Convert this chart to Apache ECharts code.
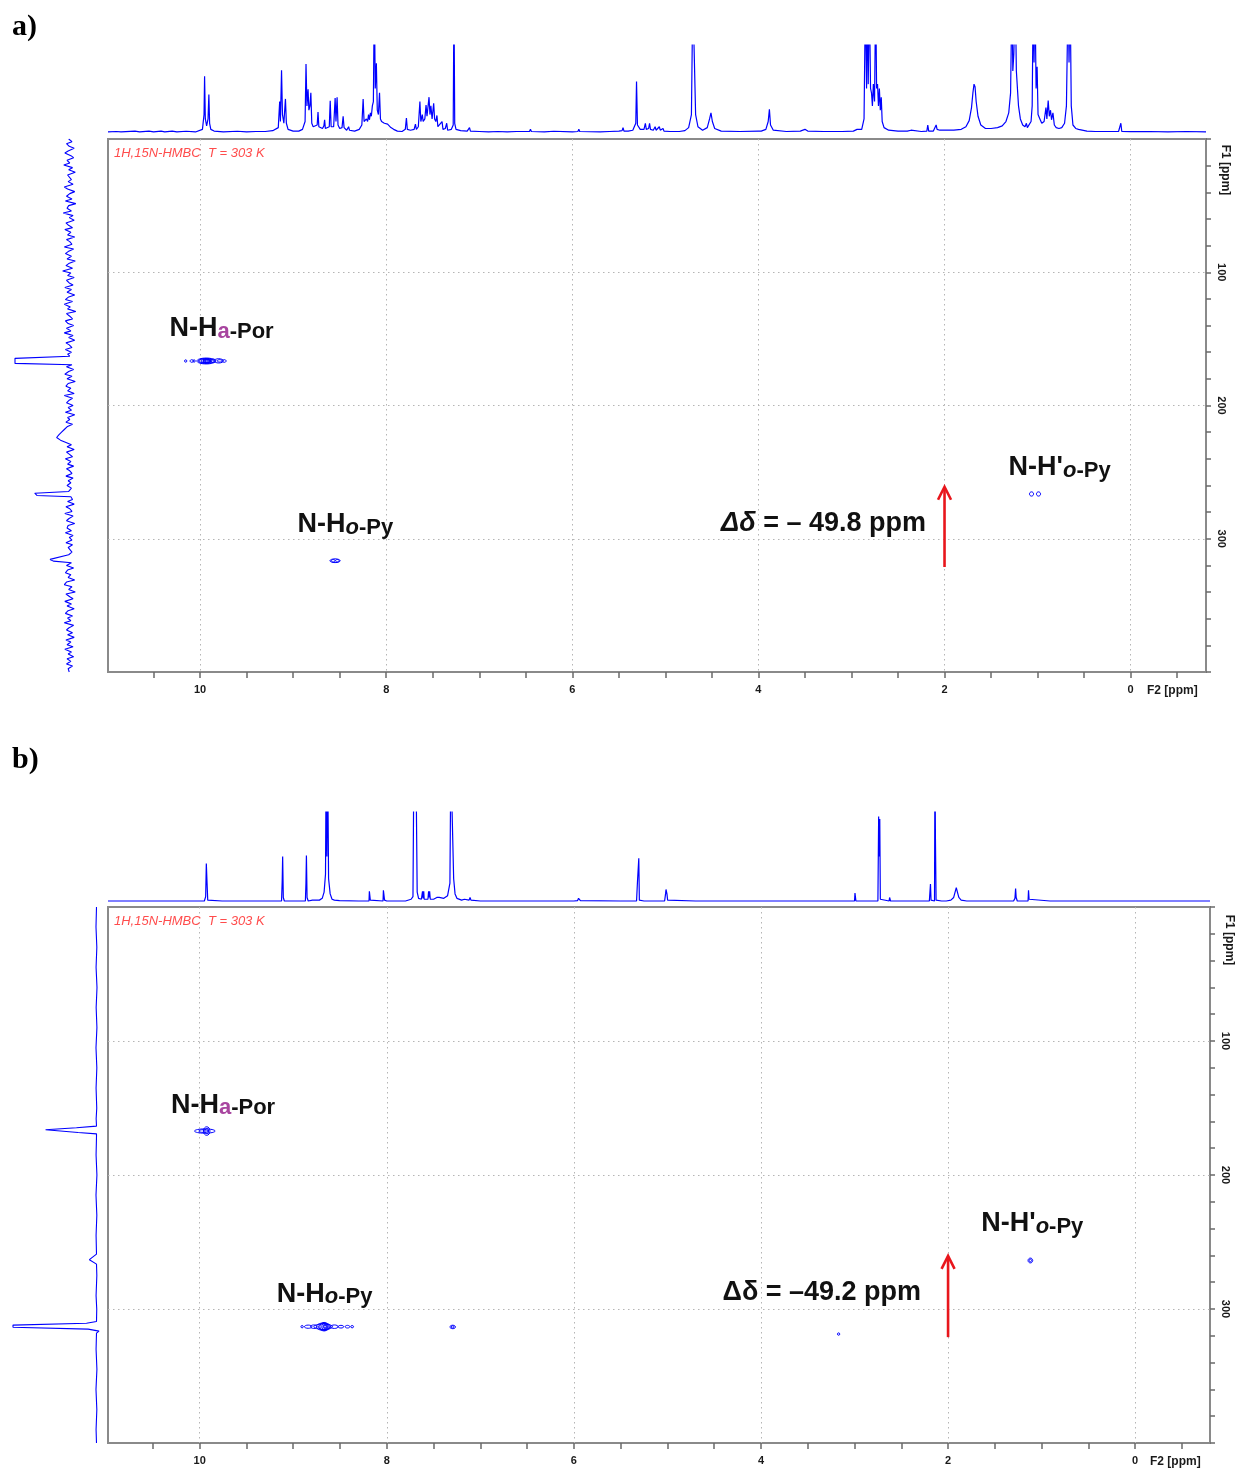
<!DOCTYPE html>
<html><head><meta charset="utf-8">
<script src="https://cdn.jsdelivr.net/npm/echarts@6/dist/echarts.min.js"></script>
<style>html,body{margin:0;padding:0;background:#fff}#c{width:1238px;height:1472px}</style>
</head><body><div id="c"></div><script>
// ---------------- DATA ----------------
const f2Ticks = [-0.5,0,0.5,1,1.5,2,2.5,3,3.5,4,4.5,5,5.5,6,6.5,7,7.5,8,8.5,9,9.5,10,10.5];
const f2Labels = [0,2,4,6,8,10];
const f1Labels = [100,200,300];

// panel a: 1H projection [ppm, intensity]
const topA = [
[10.99,0],[10.9,0.005],[10.85,0],[10.7,0.01],[10.65,0],[10.55,0.01],[10.5,0],[10.42,0.01],[10.38,0],[10.3,0.01],[10.25,0],[10.15,0.008],[10.05,0],[9.975,0.03],[9.958,0.2],[9.952,0.64],[9.944,0.15],[9.93,0.07],[9.915,0.15],[9.906,0.43],[9.898,0.1],[9.885,0.03],[9.85,0.01],[9.75,0],[9.6,0.008],[9.5,0],[9.4,0.005],[9.3,0.005],[9.22,0.015],
[9.16,0.05],[9.145,0.35],[9.137,0.12],[9.125,0.71],[9.115,0.2],[9.1,0.1],[9.083,0.38],[9.073,0.1],[9.055,0.03],[9.0,0.01],[8.94,0.01],[8.9,0.03],[8.872,0.12],[8.862,0.78],[8.852,0.3],[8.84,0.49],[8.831,0.25],[8.82,0.3],[8.81,0.45],[8.8,0.1],[8.785,0.06],[8.765,0.05],[8.742,0.08],[8.733,0.23],[8.724,0.06],[8.705,0.04],[8.685,0.04],[8.67,0.07],[8.662,0.14],[8.654,0.04],[8.635,0.03],[8.612,0.06],[8.602,0.36],[8.592,0.06],[8.565,0.06],[8.549,0.39],[8.54,0.12],[8.528,0.4],[8.518,0.08],[8.5,0.04],[8.475,0.05],[8.463,0.18],[8.453,0.05],[8.425,0.02],[8.404,0.06],[8.395,0.02],[8.34,0.01],[8.29,0.03],
[8.262,0.08],[8.248,0.38],[8.238,0.12],[8.222,0.1],[8.213,0.15],[8.2,0.12],[8.19,0.2],[8.18,0.14],[8.17,0.22],[8.16,0.18],[8.149,0.3],[8.138,0.35],[8.128,1.6],[8.118,0.5],[8.106,0.79],[8.096,0.25],[8.084,0.2],[8.072,0.45],[8.062,0.15],[8.05,0.12],[8.035,0.14],[8.02,0.1],[8.0,0.12],[7.985,0.09],[7.965,0.1],[7.95,0.05],[7.92,0.03],[7.88,0.01],[7.83,0.005],
[7.795,0.03],[7.783,0.16],[7.773,0.03],[7.74,0.02],[7.7,0.03],[7.686,0.09],[7.676,0.03],[7.655,0.06],[7.638,0.35],[7.628,0.12],[7.612,0.2],[7.603,0.12],[7.585,0.15],[7.572,0.31],[7.562,0.18],[7.548,0.2],[7.54,0.4],[7.53,0.2],[7.52,0.3],[7.507,0.15],[7.49,0.33],[7.48,0.15],[7.467,0.12],[7.455,0.19],[7.445,0.06],[7.425,0.05],[7.4,0.12],[7.39,0.03],[7.365,0.04],[7.35,0.1],[7.34,0.02],[7.3,0.03],[7.28,0.08],[7.272,1.6],[7.264,0.1],[7.25,0.03],[7.2,0.015],[7.13,0.01],[7.105,0.05],[7.095,0.01],[7.0,0.005],[6.9,0],[6.8,0.005],[6.7,0],[6.6,0.005],[6.46,0.005],[6.45,0.03],[6.44,0.005],[6.3,0],[6.2,0.008],[6.0,0],[5.94,0.005],[5.93,0.03],[5.92,0.005],[5.7,0],[5.6,0.005],[5.5,0.01],
[5.465,0.015],[5.455,0.05],[5.445,0.01],[5.4,0.01],[5.35,0.02],[5.318,0.1],[5.31,0.58],[5.3,0.08],[5.27,0.03],[5.23,0.03],[5.215,0.1],[5.205,0.03],[5.18,0.04],[5.17,0.1],[5.16,0.03],[5.13,0.02],[5.11,0.06],[5.1,0.02],[5.065,0.06],[5.055,0.02],[5.025,0.04],[5.015,0.01],[4.95,0.005],[4.85,0.005],[4.79,0.015],[4.75,0.05],[4.72,0.2],[4.705,1.6],[4.69,1.6],[4.675,0.2],[4.65,0.06],[4.6,0.02],[4.55,0.05],[4.525,0.15],[4.51,0.22],[4.495,0.12],[4.47,0.04],[4.4,0.01],[4.2,0.005],[4.0,0.01],[3.985,0.03],[3.97,0.01],[3.92,0.03],[3.895,0.12],[3.882,0.26],[3.87,0.08],[3.84,0.02],[3.7,0.005],[3.55,0.01],[3.5,0.03],[3.47,0.01],[3.3,0.005],[3.1,0.005],[2.98,0.01],[2.94,0.03],[2.92,0.01],[2.89,0.03],[2.865,0.15],[2.85,1.6],[2.838,0.5],[2.83,1.6],[2.82,0.55],[2.808,1.6],[2.795,0.5],[2.785,0.45],[2.775,0.3],[2.765,0.55],[2.752,0.35],[2.74,1.6],[2.73,0.5],[2.72,0.55],[2.71,0.3],[2.7,0.5],[2.69,0.25],[2.68,0.4],[2.67,0.12],[2.65,0.05],[2.6,0.02],[2.5,0.01],[2.4,0.01],[2.36,0.02],[2.34,0.01],[2.25,0.005],[2.19,0.01],[2.18,0.08],[2.17,0.01],[2.12,0.01],[2.09,0.08],[2.08,0.03],[2.065,0.05],[2.05,0.02],[2.0,0.02],[1.9,0.02],[1.82,0.03],[1.77,0.06],[1.735,0.13],[1.71,0.28],[1.695,0.45],[1.683,0.55],[1.672,0.52],[1.66,0.35],[1.64,0.18],[1.61,0.08],[1.56,0.04],[1.5,0.04],[1.43,0.05],[1.38,0.07],[1.34,0.12],[1.31,0.22],[1.29,0.45],[1.276,1.6],[1.266,0.7],[1.255,0.9],[1.24,1.6],[1.228,0.7],[1.216,0.7],[1.205,0.3],[1.185,0.15],[1.16,0.08],[1.135,0.06],[1.12,0.1],[1.11,0.05],[1.09,0.06],[1.07,0.12],[1.058,0.3],[1.047,1.6],[1.038,0.8],[1.028,1.6],[1.016,0.5],[1.005,0.75],[0.995,0.2],[0.975,0.15],[0.955,0.1],[0.93,0.12],[0.91,0.28],[0.9,0.15],[0.886,0.36],[0.874,0.18],[0.861,0.25],[0.85,0.14],[0.835,0.22],[0.82,0.08],[0.8,0.05],[0.77,0.04],[0.74,0.05],[0.71,0.1],[0.69,0.3],[0.672,1.6],[0.662,0.8],[0.65,1.6],[0.638,0.3],[0.62,0.08],[0.59,0.04],[0.56,0.03],[0.55,0.05],[0.54,0.02],[0.47,0.01],[0.38,0.005],[0.25,0.005],[0.13,0.005],[0.105,0.1],[0.095,0.005],[0.0,0.003],[-0.2,0.005],[-0.4,0],[-0.6,0.005],[-0.81,0]
];

// panel b: 1H projection [ppm, intensity]
const topB = [
[10.98,0],[10.8,0],[10.58,0],[10.57,0.012],[10.56,0],[10.2,0],[9.95,0],[9.936,0.05],[9.929,0.42],[9.921,0.2],[9.914,0.01],[9.9,0],[9.76,0],[9.75,0.008],[9.74,0],[9.69,0],[9.68,0.008],[9.67,0],[9.55,0],[9.54,0.008],[9.53,0],[9.4,0],[9.38,-0.008],[9.36,0],[9.3,0],[9.29,0.008],[9.28,0],[9.125,0],[9.118,0.22],[9.113,0.5],[9.106,0.04],[9.095,0],[8.99,0],[8.985,-0.01],[8.98,0],[8.87,0],[8.864,0.2],[8.859,0.51],[8.852,0.04],[8.84,0],[8.795,0.01],[8.79,0.03],[8.785,0],[8.72,0.01],[8.69,0.03],[8.67,0.1],[8.655,0.3],[8.648,1.6],[8.64,0.5],[8.632,1.6],[8.622,0.25],[8.605,0.08],[8.585,0.02],[8.56,0.01],[8.505,0.005],[8.5,0.02],[8.495,0.005],[8.3,0],[8.19,0],[8.186,0.11],[8.18,0.11],[8.176,0.01],[8.17,0],[8.04,0],[8.036,0.12],[8.028,0.12],[8.024,0.01],[8.0,0],[7.83,0],[7.82,0.01],[7.8,0],[7.74,0.02],[7.72,0.05],[7.71,1.6],[7.704,1.6],[7.698,1.6],[7.688,1.6],[7.682,0.88],[7.675,0.1],[7.66,0.03],[7.63,0.02],[7.618,0.11],[7.612,0.03],[7.605,0.11],[7.6,0.02],[7.56,0.02],[7.553,0.11],[7.548,0.04],[7.542,0.11],[7.535,0.02],[7.5,0.02],[7.465,0.04],[7.455,0.03],[7.44,0.04],[7.42,0.02],[7.39,0.03],[7.35,0.06],[7.325,0.2],[7.315,1.6],[7.305,1.6],[7.295,1.6],[7.285,0.25],[7.27,0.08],[7.25,0.03],[7.2,0.01],[7.17,0.02],[7.16,0.01],[7.12,0.01],[7.11,0.04],[7.1,0.01],[7.0,0],[6.8,0],[6.44,0],[6.435,0.01],[6.43,0],[6.0,0],[5.96,0.005],[5.95,0.03],[5.94,0.02],[5.93,0.005],[5.5,0],[5.33,0],[5.32,0.22],[5.306,0.48],[5.3,0.01],[5.25,0],[5.17,0],[5.168,0.01],[5.165,0],[5.03,0],[5.02,0.08],[5.015,0.13],[5.005,0.08],[4.998,0.01],[4.99,0],[4.7,0],[4.698,0.01],[4.695,0],[4.0,0],[3.5,0],[3.49,0.01],[3.48,0],[3.33,0],[3.32,0.01],[3.31,0],[3.0,0],[2.995,0.09],[2.99,0.09],[2.985,0],[2.75,0],[2.742,0.95],[2.737,0.5],[2.73,0.92],[2.724,0.02],[2.715,0.01],[2.63,0],[2.625,0.04],[2.62,0.02],[2.615,0],[2.2,0],[2.188,0.19],[2.182,0.01],[2.175,0],[2.145,0],[2.14,1.6],[2.135,0.7],[2.128,0.01],[2.12,0],[2.07,0],[2.064,0.02],[2.058,0],[2.02,0],[2.013,0.015],[2.005,0],[1.97,0.01],[1.94,0.04],[1.925,0.1],[1.912,0.15],[1.9,0.1],[1.885,0.04],[1.86,0.01],[1.8,0],[1.3,0],[1.285,0.03],[1.278,0.14],[1.272,0.04],[1.26,0],[1.2,0],[1.195,0.01],[1.19,0],[1.145,0],[1.14,0.12],[1.134,0.02],[1.125,0],[0.91,0],[0.905,0.02],[0.9,0.005],[0.893,0.02],[0.885,0],[0.5,0],[0.27,0],[0.266,-0.008],[0.26,0],[0.215,0],[0.21,-0.008],[0.205,0],[-0.1,0],[-0.105,-0.008],[-0.11,0],[-0.8,0]
];

// panel a: 15N projection [intensity, F1 ppm]
const leftA = [
[0.02,0],[-0.04,2],[0.06,3.5],[0.01,5.5],[-0.08,7],[0.03,9],[0.09,10.5],[-0.02,12.5],[-0.07,14],[0.05,16],[0.0,18],[0.11,19.5],[-0.05,21.5],[0.02,23],[-0.1,25],[0.04,27],[0.07,28.5],[-0.03,30.5],[0.03,32],[-0.06,34],[0.1,36],[0.04,37.5],[-0.09,39.5],[0.0,41],[0.06,43],[-0.04,45],[0.08,46.5],[-0.11,48.5],[0.02,50],[0.05,52],[-0.03,54],[0.12,55.5],[-0.06,57.5],[0.01,59],[-0.08,61],[0.07,63],[0.03,64.5],[-0.05,66.5],[0.09,68],[-0.02,70],[0.04,72],[-0.09,73.5],[0.06,75.5],[0.0,77],[-0.04,79],[0.1,81],[-0.07,82.5],[0.03,84.5],[0.08,86],[-0.03,88],[0.05,90],[-0.1,91.5],[0.02,93.5],[0.07,95],[-0.05,97],[0.13,99],[-0.02,100.5],[0.04,102.5],[-0.08,104],[0.06,106],[0.01,108],[-0.06,109.5],[0.09,111.5],[-0.03,113],[0.05,115],[-0.09,117],[0.02,118.5],[0.08,120.5],[-0.05,122],[0.1,124],[-0.01,126],[0.04,127.5],[-0.11,129.5],[0.06,131],[0.0,133],[-0.05,135],[0.08,136.5],[0.03,138.5],[-0.07,140],[0.06,142],[-0.02,144],[0.1,145.5],[-0.06,147.5],[0.02,149],[-0.09,151],[0.07,153],[0.01,154.5],[-0.04,156.5],[0.08,158],[-0.03,160],[0.04,161.5],[0.0,163],
[0.0,163.8],[1.0,164.6],[1.0,168.4],[-0.04,169.4],
[0.06,171],[-0.07,173],[0.02,174.5],[0.09,176.5],[-0.04,178],[0.05,180],[-0.1,182],[0.03,183.5],[0.07,185.5],[-0.02,187],[0.04,189],[-0.08,191],[0.1,192.5],[-0.05,194.5],[0.01,196],[0.06,198],[-0.06,200],[0.03,201.5],[-0.03,203.5],[0.08,205],[-0.09,207],[0.04,209],[0.0,210.5],[0.07,212.5],[-0.05,214],[0.05,216],[0.1,218],[0.15,220],[0.2,222],[0.24,224],[0.17,226],[0.08,227.5],[-0.03,229.5],[0.05,231],[-0.08,233],[0.06,235],[0.01,236.5],[-0.05,238.5],[0.08,240],[-0.02,242],[0.04,244],[-0.07,245.5],[0.06,247.5],[0.0,249],[-0.04,251],[0.07,253],[-0.06,254.5],[0.03,256.5],[-0.02,258],[0.05,260],[-0.03,262],
[0.02,264.5],[0.64,265.8],[0.6,267.5],[-0.02,268.5],
[-0.05,270.5],[0.04,272],[-0.08,274],[0.07,276],[0.0,277.5],[-0.04,279.5],[0.09,281],[-0.06,283],[0.02,285],[0.06,286.5],[-0.09,288.5],[0.03,290],[0.05,292],[-0.03,294],[0.08,295.5],[-0.06,297.5],[0.01,299],[-0.04,301],[0.07,303],[-0.05,304.5],[0.03,306.5],[0.06,308],[-0.04,310],[0.02,312],[0.05,313.5],
[0.36,315.5],[0.3,316.8],[-0.03,318],
[0.06,320],[-0.07,322],[0.04,323.5],[0.08,325.5],[-0.02,327],[0.03,329],[-0.09,331],[0.06,332.5],[0.1,334.5],[-0.04,336],[0.02,338],[-0.1,340],[0.07,341.5],[0.0,343.5],[-0.06,345],[0.09,347],[-0.03,349],[0.05,350.5],[-0.08,352.5],[0.03,354],[0.08,356],[-0.05,358],[0.04,359.5],[-0.02,361.5],[0.1,363],[-0.07,365],[0.02,367],[0.06,368.5],[-0.05,370.5],[0.04,372],[-0.08,374],[0.07,376],[-0.02,377.5],[0.05,379.5],[-0.06,381],[0.09,383],[-0.03,385],[0.03,386.5],[-0.07,388.5],[0.05,390],[-0.02,392],[0.06,394],[-0.05,395.5],[0.03,397.5],[0.01,400]
];

// panel b: 15N projection [intensity, F1 ppm]
const leftB = [
[0,0],[0.006,15],[-0.004,30],[0.005,45],[-0.006,60],[0.004,75],[-0.005,90],[0.006,105],[-0.004,120],[0.005,135],[-0.003,150],[0.004,158],[0,163.5],[0.24,164.7],[0.61,166.2],[0.61,167.4],[0.22,168.3],[0,169.3],[-0.012,170.3],[0,171.5],[0.005,185],[-0.005,200],[0.006,215],[-0.004,230],[0.005,245],[0,259],[0.085,263.2],[0,266.5],[-0.004,275],[0.005,290],[-0.003,300],[0,309.3],[0.12,310.6],[1.0,312],[1.0,313.6],[0.1,315],[-0.03,316.5],[0,318],[0.005,330],[-0.005,345],[0.006,360],[-0.004,375],[0.005,390],[0,400]
];

// cross-peak contours [F2 ppm, F1 ppm, F2 half-width ppm, F1 half-width ppm]
const contoursA = [
[10.155,166.6,0.012,0.8],[10.09,166.6,0.018,1.0],[10.065,166.6,0.01,0.7],
[9.935,166.6,0.1,2.2],[9.935,166.6,0.085,1.9],[9.94,166.5,0.07,1.6],[9.935,166.6,0.055,1.3],[9.93,166.7,0.04,1.1],[9.925,166.6,0.028,0.8],[9.95,166.6,0.015,0.6],[9.9,166.6,0.02,0.7],
[9.86,166.5,0.03,1.3],[9.80,166.5,0.05,1.6],[9.79,166.5,0.025,0.9],[9.74,166.6,0.02,1.0],
[8.55,316.5,0.055,1.4],[8.57,316.5,0.02,0.8],[8.525,316.5,0.02,0.8],
[1.065,266.4,0.022,1.6],[0.99,266.4,0.022,1.6]
];
const contoursB = [
[9.945,167.2,0.11,1.6],[9.925,167.2,0.035,3.2],[9.925,167.2,0.02,2.0],[9.96,167.2,0.05,1.0],
[8.905,313.2,0.012,0.7],[8.84,313.2,0.04,1.2],[8.78,313.2,0.035,1.3],[8.68,313.2,0.1,2.0],[8.675,313.2,0.075,2.8],[8.67,313.2,0.06,2.4],[8.67,313.2,0.045,3.2],[8.665,313.2,0.03,2.4],[8.66,313.2,0.02,1.6],[8.66,313.2,0.01,1.0],[8.56,313.2,0.04,1.3],[8.49,313.2,0.03,1.0],[8.42,313.2,0.025,1.0],[8.37,313.2,0.015,0.8],
[7.295,313.4,0.03,1.3],[7.295,313.4,0.015,0.7],
[3.17,318.7,0.01,0.8],
[1.12,263.8,0.025,1.8],[1.12,263.8,0.012,1.0]
];

// arrows [F2 ppm, F1 start, F1 tip]
const arrowsA = [[2.0,321.2,261.0]];
const arrowsB = [[2.0,321.0,260.3]];

// annotation texts and anchors [F2, F1, text index]
const labelTextsA = ['{b|N-H}{m|a}{s|-Por}','{b|N-H}{i|o}{s|-Py}',"{b|N-H'}{i|o}{s|-Py}",'{di|Δδ}{d| = – 49.8 ppm}'];
const labelTextsB = ['{b|N-H}{m|a}{s|-Por}','{b|N-H}{i|o}{s|-Py}',"{b|N-H'}{i|o}{s|-Py}",'{du|Δδ}{d| = –49.2 ppm}'];
const labelPosA = [[9.77,142.6,0],[8.44,289.7,1],[0.763,246.9,2],[3.30,288.4,3]];
const labelPosB = [[9.75,148.3,0],[8.664,289.0,1],[1.10,236.6,2],[3.35,288.0,3]];

const panelTitle = '1H,15N-HMBC  T = 303 K';
const panelTags = ['a)','b)'];

// ---------------- CHART ----------------
const FF = '"Liberation Sans", Arial, sans-serif';
const BLUE = '#0000ff';
const RICH = {
  b:{fontSize:27,fontWeight:'bold',fontFamily:FF,fill:'#111',lineHeight:27,verticalAlign:'bottom'},
  s:{fontSize:22,fontWeight:'bold',fontFamily:FF,fill:'#111',lineHeight:22,verticalAlign:'bottom'},
  m:{fontSize:22,fontWeight:'bold',fontFamily:FF,fill:'#a8459f',lineHeight:22,verticalAlign:'bottom'},
  i:{fontSize:22,fontWeight:'bold',fontStyle:'italic',fontFamily:FF,fill:'#111',lineHeight:22,verticalAlign:'bottom'},
  di:{fontSize:27,fontWeight:'bold',fontStyle:'italic',fontFamily:FF,fill:'#111',lineHeight:27,verticalAlign:'bottom'},
  du:{fontSize:27,fontWeight:'bold',fontFamily:FF,fill:'#111',lineHeight:27,verticalAlign:'bottom'},
  d:{fontSize:27,fontWeight:'bold',fontFamily:FF,fill:'#111',lineHeight:27,verticalAlign:'bottom'}
};

const rangeA = {min:-0.81, max:10.99};
const rangeB = {min:-0.80, max:10.98};

function hiddenAxis(grid, extra){ return Object.assign({gridIndex:grid,type:'value',show:false,scale:false,axisLine:{onZero:false}}, extra); }
function mainX(grid, r){ return {gridIndex:grid,type:'value',inverse:true,min:r.min,max:r.max,position:'bottom',
  axisLine:{show:false,onZero:false},
  axisTick:{show:true,inside:false,length:6,customValues:f2Ticks,lineStyle:{color:'#6a6a6a',width:1.5}},
  axisLabel:{show:true,customValues:f2Labels,margin:12,color:'#1a1a1a',fontFamily:FF,fontWeight:'bold',fontSize:11},
  splitLine:{show:false}}; }
function splitX(grid, r){ return {gridIndex:grid,type:'value',inverse:true,min:r.min,max:r.max,position:'top',
  axisLine:{show:false,onZero:false},axisTick:{show:false,customValues:f2Labels},axisLabel:{show:false},
  splitLine:{show:true,lineStyle:{color:'#b5b5b5',width:1,type:[1.5,3.5]}}}; }
function mainY(grid){ return {gridIndex:grid,type:'value',inverse:true,min:0,max:400,interval:20,position:'right',
  axisLine:{show:false,onZero:false},
  axisTick:{show:true,inside:false,length:5,lineStyle:{color:'#6a6a6a',width:1.5}},
  axisLabel:{show:true,customValues:f1Labels,rotate:-90,margin:10,color:'#1a1a1a',fontFamily:FF,fontWeight:'bold',fontSize:11},
  splitLine:{show:false}}; }
function splitY(grid){ return {gridIndex:grid,type:'value',inverse:true,min:0,max:400,position:'left',
  axisLine:{show:false,onZero:false},axisTick:{show:false,customValues:f1Labels},axisLabel:{show:false},
  splitLine:{show:true,lineStyle:{color:'#b5b5b5',width:1,type:[1.5,3.5]}}}; }

function contourItem(params, api){
  const c = api.coord([api.value(0), api.value(1)]);
  const s = api.size([api.value(2), api.value(3)]);
  return {type:'ellipse',shape:{cx:c[0],cy:c[1],rx:Math.max(Math.abs(s[0]),1.2),ry:Math.max(Math.abs(s[1]),1.2)},
    style:{fill:'none',stroke:BLUE,lineWidth:1}};
}
function arrowItem(params, api){
  const p0 = api.coord([api.value(0), api.value(1)]);
  const p1 = api.coord([api.value(0), api.value(2)]);
  return {type:'group',children:[
    {type:'line',shape:{x1:p0[0],y1:p0[1],x2:p1[0],y2:p1[1]+1},style:{stroke:'#e8161c',lineWidth:2.6}},
    {type:'polyline',shape:{points:[[p1[0]-6.5,p1[1]+13],[p1[0],p1[1]],[p1[0]+6.5,p1[1]+13]]},style:{stroke:'#e8161c',lineWidth:2.6,fill:'none'}}
  ]};
}
function labelItem(texts){ return function(params, api){
  const c = api.coord([api.value(0), api.value(1)]);
  return {type:'text',x:c[0],y:c[1],style:{text:texts[api.value(2)],rich:RICH,align:'center',verticalAlign:'middle'}};
}; }

const grids = [
  {left:108,top:45,width:1098,height:88},
  {left:108,top:139,width:1098,height:533,show:true,borderColor:'#8a8a8a',borderWidth:2,backgroundColor:'transparent'},
  {left:15,top:139,width:63,height:533},
  {left:108,top:812,width:1102,height:90},
  {left:108,top:907,width:1102,height:536,show:true,borderColor:'#8a8a8a',borderWidth:2,backgroundColor:'transparent'},
  {left:13,top:907,width:86,height:536}
].map(g => Object.assign({containLabel:false,outerBoundsMode:'none'}, g));

const xAxes = [
  hiddenAxis(0,{inverse:true,min:rangeA.min,max:rangeA.max}),
  mainX(1,rangeA), splitX(1,rangeA),
  hiddenAxis(2,{inverse:true,min:-0.15,max:1}),
  hiddenAxis(3,{inverse:true,min:rangeB.min,max:rangeB.max}),
  mainX(4,rangeB), splitX(4,rangeB),
  hiddenAxis(5,{inverse:true,min:-0.03,max:1})
];
const yAxes = [
  hiddenAxis(0,{min:-0.012,max:1}),
  mainY(1), splitY(1),
  hiddenAxis(2,{inverse:true,min:0,max:400}),
  hiddenAxis(3,{min:-0.011,max:1}),
  mainY(4), splitY(4),
  hiddenAxis(5,{inverse:true,min:0,max:400})
];

function lineSeries(data, xi, yi, w){ return {type:'line',data:data,xAxisIndex:xi,yAxisIndex:yi,symbol:'none',showSymbol:false,
  clip:true,silent:true,lineStyle:{color:BLUE,width:w},itemStyle:{color:BLUE},z:3}; }
function customSeries(data, xi, yi, fn, z){ return {type:'custom',data:data,xAxisIndex:xi,yAxisIndex:yi,renderItem:fn,
  clip:false,silent:true,z:z,encode:{x:0,y:1}}; }

const series = [
  lineSeries(topA,0,0,1.2),
  lineSeries(leftA,3,3,1.1),
  customSeries(contoursA,1,1,contourItem,4),
  customSeries(arrowsA,1,1,arrowItem,5),
  customSeries(labelPosA,1,1,labelItem(labelTextsA),6),
  lineSeries(topB,4,4,1.2),
  lineSeries(leftB,7,7,1.1),
  customSeries(contoursB,5,5,contourItem,4),
  customSeries(arrowsB,5,5,arrowItem,5),
  customSeries(labelPosB,5,5,labelItem(labelTextsB),6)
];

const txt = (x,y,text,font,fill,extra) => Object.assign({type:'text',x:x,y:y,silent:true,z:10,
  style:{text:text,font:font,fill:fill,align:'left',verticalAlign:'middle'}}, extra||{});
const graphic = [
  txt(12,27,panelTags[0],'bold 30px "Liberation Serif", serif','#000'),
  txt(12,760,panelTags[1],'bold 30px "Liberation Serif", serif','#000'),
  txt(114,153,panelTitle,'italic 13px '+FF,'#ff4c4c'),
  txt(114,921,panelTitle,'italic 13px '+FF,'#ff4c4c'),
  txt(1147,691,'F2 [ppm]','bold 12px '+FF,'#1a1a1a'),
  txt(1150,1462,'F2 [ppm]','bold 12px '+FF,'#1a1a1a'),
  {type:'text',x:1225,y:170,rotation:-Math.PI/2,silent:true,z:10,style:{text:'F1 [ppm]',font:'bold 12px '+FF,fill:'#1a1a1a',align:'center',verticalAlign:'middle'}},
  {type:'text',x:1229,y:940,rotation:-Math.PI/2,silent:true,z:10,style:{text:'F1 [ppm]',font:'bold 12px '+FF,fill:'#1a1a1a',align:'center',verticalAlign:'middle'}}
];

const chart = echarts.init(document.getElementById('c'), null, {renderer:'canvas'});
chart.setOption({
  animation:false,
  backgroundColor:'#ffffff',
  textStyle:{fontFamily:FF},
  grid:grids, xAxis:xAxes, yAxis:yAxes, series:series, graphic:graphic
});
</script></body></html>
